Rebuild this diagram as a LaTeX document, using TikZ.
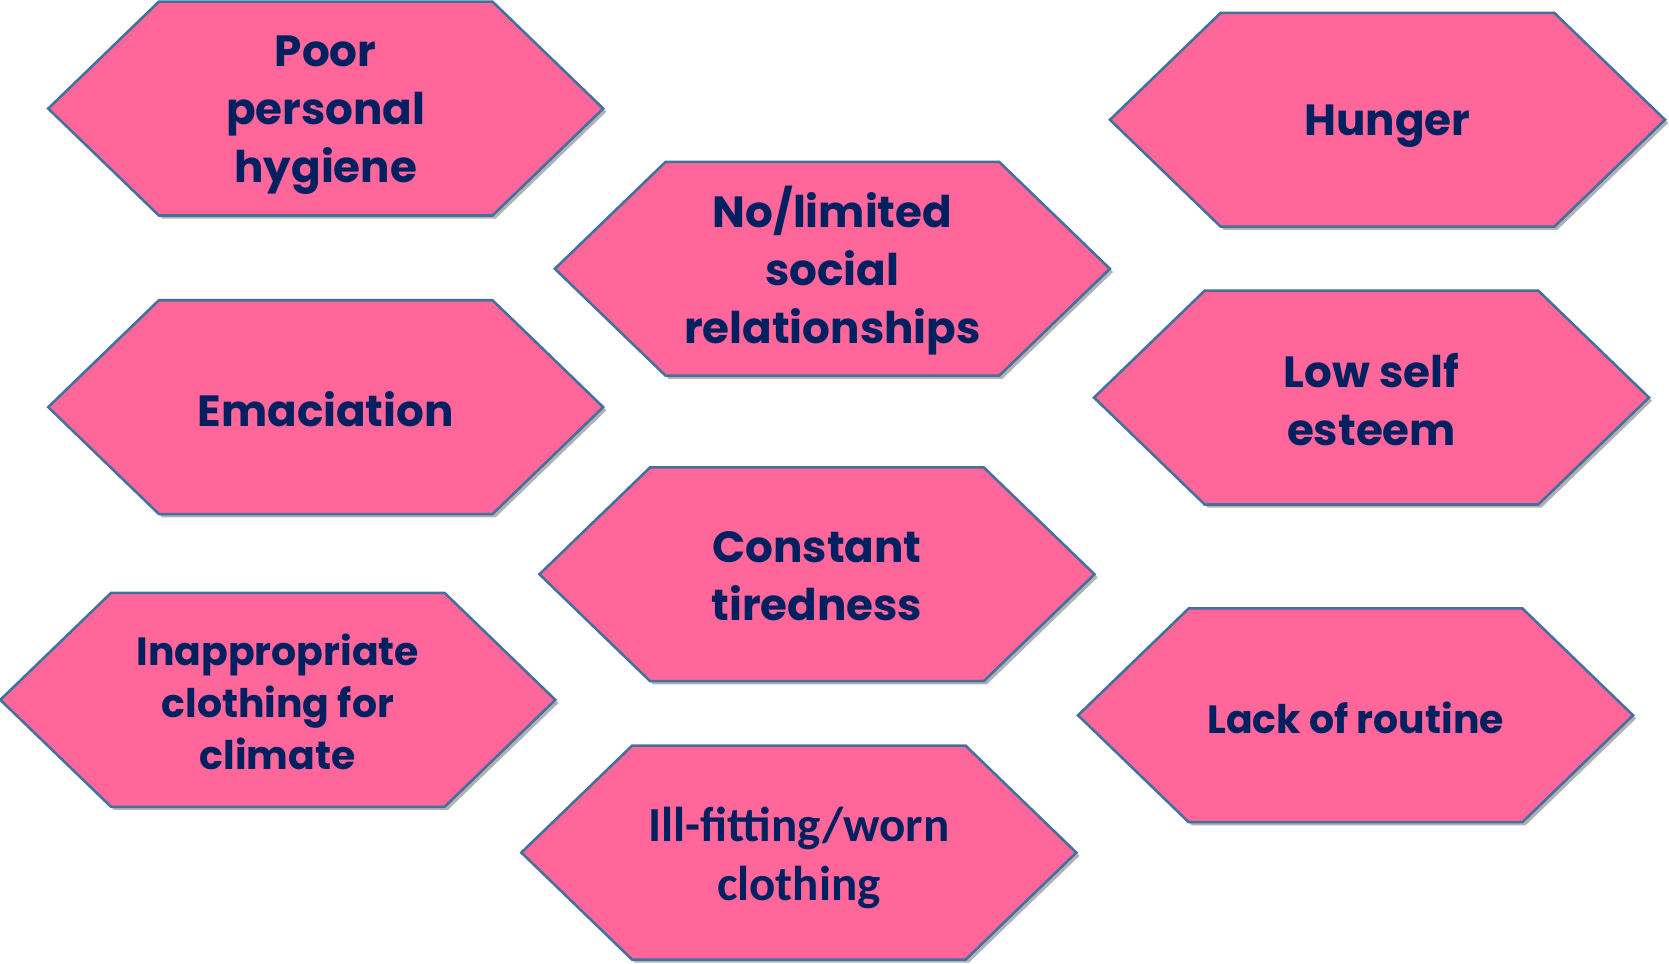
\documentclass[tikz,border=0pt]{standalone}
\usepackage{fontspec}
\newfontfamily\gothic{Poppins}
\newfontfamily\calib{Carlito}
\usetikzlibrary{shadows,backgrounds}
\definecolor{hexpink}{HTML}{FF6699}
\definecolor{hexline}{HTML}{41719C}
\definecolor{hextext}{HTML}{002060}
\tikzset{
  hexbox/.style={minimum width=521pt, minimum height=200.5pt, inner sep=0pt},
  hexlabel/.style={align=center, text=hextext, inner sep=0pt, yshift=-2pt,
    font=\gothic\bfseries\fontsize{41}{54.5}\selectfont},
  lowertext/.style={yshift=-4pt},
  smalltext/.style={font=\gothic\bfseries\fontsize{37}{49}\selectfont},
  calibtext/.style={font=\calib\bfseries\fontsize{46}{55}\selectfont, yshift=-3pt},
  hexshape/.style={fill=hexpink, draw=hexline, line width=2.4pt, line join=miter,
    drop shadow={shadow xshift=3pt, shadow yshift=-3pt, opacity=0.3, fill=black}},
}
\newcommand\hexagonnode[5][]{%
  \node[hexbox, label={[hexlabel,#1]center:{#5}}] (#2) at (#3,#4) {};
  \begin{pgfonlayer}{background}
    \path[hexshape] (#2.west) -- ([xshift=104pt]#2.north west) -- ([xshift=-104pt]#2.north east)
      -- (#2.east) -- ([xshift=-104pt]#2.south east) -- ([xshift=104pt]#2.south west) -- cycle;
  \end{pgfonlayer}
}
\begin{document}
\begin{tikzpicture}[x=1pt,y=1pt]
\useasboundingbox (0,0) rectangle (1568,-905);
\hexagonnode[lowertext]{hyg}{306}{-102}{Poor\\personal\\hygiene}
\hexagonnode{soc}{782}{-252.5}{No/limited\\social\\relationships}
\hexagonnode[lowertext]{hun}{1303.5}{-112.5}{Hunger}
\hexagonnode{ema}{306}{-382.5}{Emaciation}
\hexagonnode{low}{1288.5}{-373.5}{Low self\\esteem}
\hexagonnode{tir}{767.5}{-539.5}{Constant\\tiredness}
\hexagonnode[smalltext]{ina}{261}{-657.5}{Inappropriate\\clothing for\\climate}
\hexagonnode[smalltext]{rou}{1273.5}{-672}{Lack of routine}
\hexagonnode[calibtext]{ill}{750.5}{-801}{Ill-fitting/worn\\clothing}
\end{tikzpicture}
\end{document}
